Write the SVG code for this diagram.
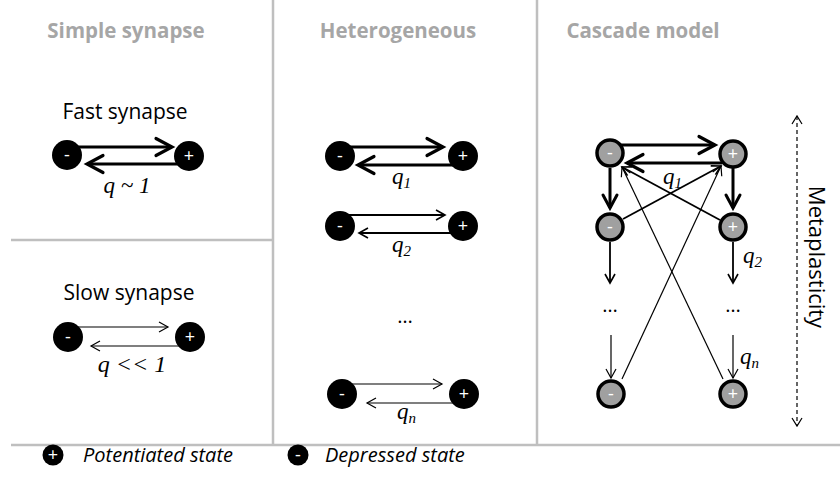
<svg xmlns="http://www.w3.org/2000/svg" width="840" height="488" viewBox="0 0 840 488">
<defs>
<style>
.div{stroke:#bfbfbf;stroke-width:2.5;fill:none}
.title{font-family:"Open Sans","Liberation Sans",sans-serif;font-weight:bold;font-size:20.5px;fill:#a6a6a6;text-anchor:middle}
.lbl{font-family:"Open Sans","Liberation Sans",sans-serif;font-size:21px;fill:#000;text-anchor:middle}
.meta{font-family:"Open Sans","Liberation Sans",sans-serif;font-size:22px;fill:#000;text-anchor:middle}
.q{font-family:"Liberation Serif",serif;font-style:italic;font-size:23px;fill:#000}
.sub{font-size:15px}
.dn{fill:#000}
.gn{fill:#a0a0a0;stroke:#000;stroke-width:3.5}
.sym{font-family:"Open Sans","Liberation Sans",sans-serif;font-size:18px;fill:#fff;text-anchor:middle}
.thick{stroke:#000;stroke-width:3;fill:none}
.med{stroke:#000;stroke-width:1.8;fill:none}
.thin{stroke:#000;stroke-width:1.2;fill:none}
.leg{font-family:"Open Sans","Liberation Sans",sans-serif;font-style:italic;font-size:20px;fill:#000}
.dots{font-family:"Open Sans","Liberation Sans",sans-serif;font-size:20px;fill:#000;text-anchor:middle}
</style>
<marker id="hT" markerUnits="userSpaceOnUse" markerWidth="22" markerHeight="22" refX="17" refY="10" orient="auto" overflow="visible">
<path d="M1,1.5 L17,10 L1,18.5" fill="none" stroke="#000" stroke-width="3.2" stroke-linecap="round"/>
</marker>
<marker id="hV" markerUnits="userSpaceOnUse" markerWidth="22" markerHeight="22" refX="14" refY="8" orient="auto" overflow="visible">
<path d="M1,1 L14,8 L1,15" fill="none" stroke="#000" stroke-width="3" stroke-linecap="round"/>
</marker>
<marker id="hM" markerUnits="userSpaceOnUse" markerWidth="16" markerHeight="16" refX="10" refY="6" orient="auto" overflow="visible">
<path d="M1,1 L10,6 L1,11" fill="none" stroke="#000" stroke-width="1.6"/>
</marker>
<marker id="hS" markerUnits="userSpaceOnUse" markerWidth="16" markerHeight="16" refX="10" refY="6" orient="auto" overflow="visible">
<path d="M1,1 L10,6 L1,11" fill="none" stroke="#000" stroke-width="1.2"/>
</marker>
</defs>
<rect width="840" height="488" fill="#fff"/>

<g id="dividers">
<line class="div" x1="273" y1="0" x2="273" y2="445"/>
<line class="div" x1="537" y1="0" x2="537" y2="445"/>
<line class="div" x1="11" y1="240" x2="273" y2="240"/>
<line class="div" x1="11" y1="445" x2="840" y2="445"/>
</g>

<g id="titles">
<text class="title" x="126" y="38">Simple synapse</text>
<text class="title" x="398" y="38">Heterogeneous</text>
<text class="title" x="643" y="38">Cascade model</text>
</g>

<g id="connectors">
<!-- fast synapse -->
<line class="thick" x1="75" y1="147" x2="172" y2="147" marker-end="url(#hT)"/>
<line class="thick" x1="180" y1="164" x2="87" y2="164" marker-end="url(#hT)"/>
<!-- slow synapse -->
<line class="thin" x1="76" y1="327" x2="168" y2="327" marker-end="url(#hS)"/>
<line class="thin" x1="182" y1="346" x2="91" y2="346" marker-end="url(#hS)"/>
<!-- heterogeneous -->
<line class="thick" x1="348" y1="147" x2="443" y2="147" marker-end="url(#hT)"/>
<line class="thick" x1="455" y1="165" x2="358" y2="165" marker-end="url(#hT)"/>
<line class="med" x1="348" y1="215" x2="445" y2="215" marker-end="url(#hM)"/>
<line class="med" x1="455" y1="233" x2="359" y2="233" marker-end="url(#hM)"/>
<line class="thin" x1="350" y1="384" x2="442" y2="384" marker-end="url(#hS)"/>
<line class="thin" x1="456" y1="403" x2="367" y2="403" marker-end="url(#hS)"/>
<!-- cascade -->
<line class="thick" x1="620" y1="145" x2="715" y2="145" marker-end="url(#hT)"/>
<line class="thick" x1="722" y1="163" x2="627" y2="163" marker-end="url(#hT)"/>
<line class="thick" x1="610" y1="168" x2="610" y2="208" marker-end="url(#hV)"/>
<line class="thick" x1="733" y1="168" x2="733" y2="208" marker-end="url(#hV)"/>
<line class="med" x1="623" y1="219" x2="721" y2="166" marker-end="url(#hM)"/>
<line class="med" x1="720" y1="220" x2="622" y2="167" marker-end="url(#hM)"/>
<line class="thin" x1="622" y1="379" x2="721" y2="166" marker-end="url(#hS)"/>
<line class="thin" x1="723" y1="379" x2="622" y2="167" marker-end="url(#hS)"/>
<line class="med" x1="610" y1="242" x2="610" y2="283" marker-end="url(#hM)"/>
<line class="med" x1="733" y1="242" x2="733" y2="283" marker-end="url(#hM)"/>
<line class="thin" x1="611" y1="335" x2="611" y2="378" marker-end="url(#hS)"/>
<line class="thin" x1="733" y1="335" x2="733" y2="378" marker-end="url(#hS)"/>
<!-- metaplasticity -->
<line class="thin" x1="797" y1="116" x2="797" y2="426" stroke-dasharray="4,3"/>
<path class="thin" d="M792,124 L797,116 L802,124 M792,418 L797,426 L802,418"/>
</g>

<g id="fast-synapse">
<text class="lbl" x="125" y="119">Fast synapse</text>
<circle class="dn" cx="67" cy="155" r="15"/><text class="sym" x="67" y="161">-</text>
<circle class="dn" cx="189" cy="156" r="15"/><text class="sym" x="189" y="162">+</text>
<text class="q" x="127" y="193" text-anchor="middle">q ~ 1</text>
</g>

<g id="slow-synapse">
<text class="lbl" x="129" y="300">Slow synapse</text>
<circle class="dn" cx="68" cy="337" r="15"/><text class="sym" x="68" y="343">-</text>
<circle class="dn" cx="190" cy="337" r="15"/><text class="sym" x="190" y="343">+</text>
<text class="q" x="132" y="372" text-anchor="middle" style="font-size:24px">q &lt;&lt; 1</text>
</g>

<g id="hetero-1">
<circle class="dn" cx="340" cy="156" r="15"/><text class="sym" x="340" y="162">-</text>
<circle class="dn" cx="463" cy="156" r="15"/><text class="sym" x="463" y="162">+</text>
<text class="q" x="392" y="184">q<tspan class="sub" dy="4">1</tspan></text>
</g>
<g id="hetero-2">
<circle class="dn" cx="340" cy="226" r="15"/><text class="sym" x="340" y="232">-</text>
<circle class="dn" cx="463" cy="226" r="15"/><text class="sym" x="463" y="232">+</text>
<text class="q" x="392" y="252">q<tspan class="sub" dy="4">2</tspan></text>
</g>
<g id="hetero-dots"><text class="dots" x="405" y="323">…</text></g>
<g id="hetero-n">
<circle class="dn" cx="342" cy="394" r="15"/><text class="sym" x="342" y="400">-</text>
<circle class="dn" cx="464" cy="394" r="15"/><text class="sym" x="464" y="400">+</text>
<text class="q" x="397" y="419">q<tspan class="sub" dy="4">n</tspan></text>
</g>

<g id="cascade-dep-1"><circle class="gn" cx="610" cy="153" r="13"/><text class="sym" x="610" y="159">-</text></g>
<g id="cascade-pot-1"><circle class="gn" cx="733" cy="154" r="13"/><text class="sym" x="733" y="160">+</text></g>
<g id="cascade-dep-2"><circle class="gn" cx="610" cy="227" r="13"/><text class="sym" x="610" y="233">-</text></g>
<g id="cascade-pot-2"><circle class="gn" cx="733" cy="227" r="13"/><text class="sym" x="733" y="233">+</text></g>
<g id="cascade-dep-n"><circle class="gn" cx="611" cy="394" r="13"/><text class="sym" x="611" y="400">-</text></g>
<g id="cascade-pot-n"><circle class="gn" cx="733" cy="394" r="13"/><text class="sym" x="733" y="400">+</text></g>
<g id="cascade-labels">
<text class="q" x="663" y="184">q<tspan class="sub" dy="4">1</tspan></text>
<text class="q" x="743" y="263">q<tspan class="sub" dy="4">2</tspan></text>
<text class="q" x="740" y="364">q<tspan class="sub" dy="4">n</tspan></text>
<text class="dots" x="610" y="312">…</text>
<text class="dots" x="733" y="312">…</text>
</g>

<g id="metaplasticity-label">
<text class="meta" transform="translate(809,257) rotate(90)" x="0" y="0">Metaplasticity</text>
</g>

<g id="legend">
<circle class="dn" cx="53" cy="455" r="10.5"/><text class="sym" x="53" y="461">+</text>
<text class="leg" x="83" y="462">Potentiated state</text>
<circle class="dn" cx="298" cy="455" r="10.5"/><text class="sym" x="298" y="461">-</text>
<text class="leg" x="325" y="462">Depressed state</text>
</g>
</svg>
